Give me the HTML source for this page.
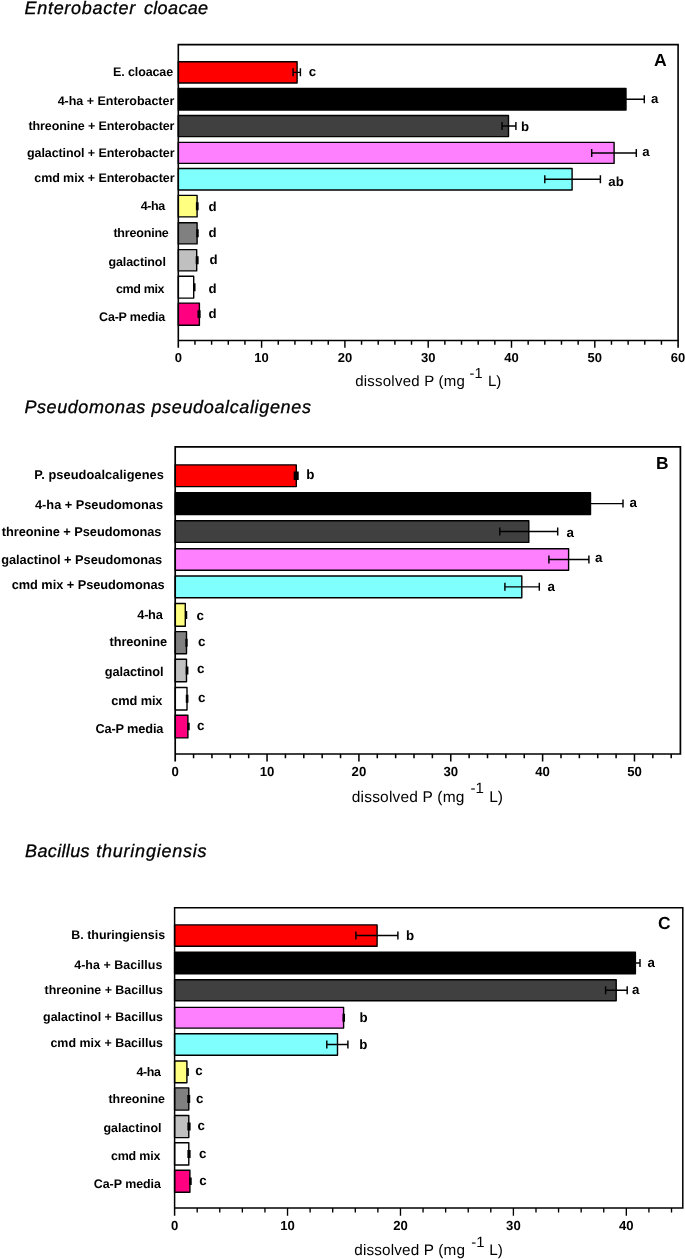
<!DOCTYPE html>
<html lang="en"><head><meta charset="utf-8"><title>Dissolved P charts</title>
<style>html,body{margin:0;padding:0;background:#fff}body{width:685px;height:1259px;overflow:hidden}svg{display:block}</style>
</head><body>
<svg width="685" height="1259" viewBox="0 0 685 1259" font-family='"Liberation Sans", sans-serif' fill="#000" text-rendering="geometricPrecision">
<rect width="685" height="1259" fill="#fff"/>
<text y="14.1" font-size="18" font-style="italic" stroke="#000" stroke-width="0.3"><tspan x="24.60" textLength="110.59" lengthAdjust="spacing">Enterobacter</tspan> <tspan x="143.90" textLength="64.23" lengthAdjust="spacing">cloacae</tspan></text>
<text y="413.1" font-size="18" font-style="italic" stroke="#000" stroke-width="0.3"><tspan x="24.40" textLength="120.87" lengthAdjust="spacing">Pseudomonas</tspan> <tspan x="151.45" textLength="159.44" lengthAdjust="spacing">pseudoalcaligenes</tspan></text>
<text y="856.5" font-size="18" font-style="italic" stroke="#000" stroke-width="0.3"><tspan x="25.10" textLength="64.42" lengthAdjust="spacing">Bacillus</tspan> <tspan x="96.20" textLength="110.39" lengthAdjust="spacing">thuringiensis</tspan></text>
<g stroke="#000" stroke-width="1.4" stroke-linejoin="round">
<rect x="178.30" y="61.70" width="118.80" height="21.30" fill="#ff0000"/>
<rect x="178.30" y="88.50" width="447.70" height="21.50" fill="#000000"/>
<rect x="178.30" y="115.50" width="330.20" height="21.10" fill="#404040"/>
<rect x="178.30" y="142.40" width="435.80" height="21.00" fill="#ff80ff"/>
<rect x="178.30" y="168.50" width="393.80" height="21.50" fill="#80ffff"/>
<rect x="178.30" y="195.40" width="18.80" height="21.50" fill="#ffff80"/>
<rect x="178.30" y="222.70" width="18.80" height="21.20" fill="#808080"/>
<rect x="178.30" y="249.60" width="18.40" height="21.30" fill="#c0c0c0"/>
<rect x="178.30" y="276.30" width="15.40" height="21.80" fill="#ffffff"/>
<rect x="178.30" y="303.10" width="21.10" height="22.10" fill="#ff0080"/>
</g>
<path d="M293.10 72.35H300.40M293.10 68.35v8.00M300.40 68.35v8.00M620.00 99.25H644.30M620.00 95.25v8.00M644.30 95.25v8.00M502.00 126.05H515.90M502.00 122.05v8.00M515.90 122.05v8.00M591.70 152.90H636.30M591.70 148.90v8.00M636.30 148.90v8.00M544.80 179.25H600.40M544.80 175.25v8.00M600.40 175.25v8.00" stroke="#000" stroke-width="1.45" fill="none"/>
<path d="M195.88 202.15H198.62v8.00H195.88zM196.28 229.30H198.72v8.00H196.28zM195.68 256.25H198.62v8.00H195.68zM193.28 283.20H195.53v8.00H193.28zM197.47 310.35H200.62v7.60H197.47z" fill="#000"/>
<path d="M178.30 347.70V44.60H678.10V347.70M177.50 340.50H678.90" stroke="#000" stroke-width="1.6" fill="none" stroke-linejoin="miter"/>
<path d="M194.96 340.50v4.30M211.62 340.50v4.30M228.28 340.50v4.30M244.94 340.50v4.30M261.60 340.50v7.20M278.26 340.50v4.30M294.92 340.50v4.30M311.58 340.50v4.30M328.24 340.50v4.30M344.90 340.50v7.20M361.56 340.50v4.30M378.22 340.50v4.30M394.88 340.50v4.30M411.54 340.50v4.30M428.20 340.50v7.20M444.86 340.50v4.30M461.52 340.50v4.30M478.18 340.50v4.30M494.84 340.50v4.30M511.50 340.50v7.20M528.16 340.50v4.30M544.82 340.50v4.30M561.48 340.50v4.30M578.14 340.50v4.30M594.80 340.50v7.20M611.46 340.50v4.30M628.12 340.50v4.30M644.78 340.50v4.30M661.44 340.50v4.30" stroke="#000" stroke-width="1.44" fill="none"/>
<g font-weight="bold" font-size="13" text-anchor="middle">
<text x="178.30" y="361.60">0</text>
<text x="261.60" y="361.60">10</text>
<text x="344.90" y="361.60">20</text>
<text x="428.20" y="361.60">30</text>
<text x="511.50" y="361.60">40</text>
<text x="594.80" y="361.60">50</text>
<text x="678.10" y="361.60">60</text>
</g>
<g font-weight="bold" font-size="12.5">
<text x="113.00" y="75.80" textLength="60.13" lengthAdjust="spacing">E. cloacae</text>
<text x="57.70" y="104.70" textLength="116.59" lengthAdjust="spacing">4-ha + Enterobacter</text>
<text x="28.50" y="130.30" textLength="145.99" lengthAdjust="spacing">threonine + Enterobacter</text>
<text x="27.00" y="157.00" textLength="147.51" lengthAdjust="spacing">galactinol + Enterobacter</text>
<text x="34.30" y="182.40" textLength="140.20" lengthAdjust="spacing">cmd mix + Enterobacter</text>
<text x="140.80" y="209.70" textLength="24.29" lengthAdjust="spacing">4-ha</text>
<text x="113.40" y="236.80" textLength="55.41" lengthAdjust="spacing">threonine</text>
<text x="108.50" y="265.60" textLength="57.37" lengthAdjust="spacing">galactinol</text>
<text x="116.00" y="292.90" textLength="48.53" lengthAdjust="spacing">cmd mix</text>
<text x="99.10" y="320.50" textLength="66.02" lengthAdjust="spacing">Ca-P media</text>
</g>
<g font-weight="bold" font-size="13.2">
<text x="308.80" y="76.20">c</text>
<text x="651.00" y="102.80">a</text>
<text x="521.10" y="131.30">b</text>
<text x="642.30" y="156.40">a</text>
<text x="608.30" y="185.50">ab</text>
<text x="208.40" y="210.80">d</text>
<text x="208.40" y="236.90">d</text>
<text x="209.40" y="263.90">d</text>
<text x="208.40" y="293.00">d</text>
<text x="208.40" y="318.40">d</text>
</g>
<text x="653.90" y="66.00" font-size="17.6" font-weight="bold">A</text>
<text x="355.20" y="386.30" font-size="15" textLength="109.6" lengthAdjust="spacing">dissolved P (mg</text>
<text x="469.60" y="377.60" font-size="14.55">-1</text>
<text x="488.00" y="386.30" font-size="15">L)</text>
<g stroke="#000" stroke-width="1.4" stroke-linejoin="round">
<rect x="175.20" y="464.90" width="121.10" height="21.70" fill="#ff0000"/>
<rect x="175.20" y="492.60" width="415.30" height="22.00" fill="#000000"/>
<rect x="175.20" y="520.70" width="353.60" height="21.70" fill="#404040"/>
<rect x="175.20" y="548.70" width="393.40" height="21.50" fill="#ff80ff"/>
<rect x="175.20" y="576.00" width="346.60" height="21.70" fill="#80ffff"/>
<rect x="175.20" y="603.50" width="10.10" height="22.80" fill="#ffff80"/>
<rect x="175.20" y="631.60" width="11.30" height="22.20" fill="#808080"/>
<rect x="175.20" y="659.20" width="11.30" height="22.50" fill="#c0c0c0"/>
<rect x="175.20" y="687.50" width="11.80" height="22.50" fill="#ffffff"/>
<rect x="175.20" y="715.20" width="12.70" height="22.70" fill="#ff0080"/>
</g>
<path d="M585.00 503.60H623.00M585.00 499.60v8.00M623.00 499.60v8.00M499.80 531.55H557.70M499.80 527.55v8.00M557.70 527.55v8.00M548.90 559.45H588.90M548.90 555.45v8.00M588.90 555.45v8.00M504.90 586.85H539.30M504.90 582.85v8.00M539.30 582.85v8.00" stroke="#000" stroke-width="1.45" fill="none"/>
<path d="M293.67 471.60H298.73v8.30H293.67zM185.28 610.90H187.22v8.00H185.28zM185.38 638.70H187.62v8.00H185.38zM185.68 666.45H188.42v8.00H185.68zM185.78 694.75H188.42v8.00H185.78zM187.38 722.85H189.72v7.40H187.38z" fill="#000"/>
<path d="M175.20 761.60V446.90H680.40V754.00M174.35 754.00H681.25" stroke="#000" stroke-width="1.7" fill="none" stroke-linejoin="miter"/>
<path d="M193.57 754.00v4.30M211.94 754.00v4.30M230.31 754.00v4.30M248.68 754.00v4.30M267.05 754.00v7.60M285.43 754.00v4.30M303.80 754.00v4.30M322.17 754.00v4.30M340.54 754.00v4.30M358.91 754.00v7.60M377.28 754.00v4.30M395.65 754.00v4.30M414.02 754.00v4.30M432.39 754.00v4.30M450.76 754.00v7.60M469.13 754.00v4.30M487.51 754.00v4.30M505.88 754.00v4.30M524.25 754.00v4.30M542.62 754.00v7.60M560.99 754.00v4.30M579.36 754.00v4.30M597.73 754.00v4.30M616.10 754.00v4.30M634.47 754.00v7.60M652.84 754.00v4.30M671.21 754.00v4.30" stroke="#000" stroke-width="1.53" fill="none"/>
<g font-weight="bold" font-size="13.2" text-anchor="middle">
<text x="175.20" y="775.90">0</text>
<text x="267.05" y="775.90">10</text>
<text x="358.91" y="775.90">20</text>
<text x="450.76" y="775.90">30</text>
<text x="542.62" y="775.90">40</text>
<text x="634.47" y="775.90">50</text>
</g>
<g font-weight="bold" font-size="12.8">
<text x="34.30" y="479.30" textLength="129.62" lengthAdjust="spacing">P. pseudoalcaligenes</text>
<text x="35.00" y="509.40" textLength="128.01" lengthAdjust="spacing">4-ha + Pseudomonas</text>
<text x="1.75" y="535.60" textLength="159.66" lengthAdjust="spacing">threonine + Pseudomonas</text>
<text x="1.20" y="563.50" textLength="161.03" lengthAdjust="spacing">galactinol + Pseudomonas</text>
<text x="11.70" y="589.40" textLength="152.92" lengthAdjust="spacing">cmd mix + Pseudomonas</text>
<text x="137.30" y="618.70" textLength="25.49" lengthAdjust="spacing">4-ha</text>
<text x="109.50" y="646.40" textLength="57.71" lengthAdjust="spacing">threonine</text>
<text x="104.70" y="675.90" textLength="58.87" lengthAdjust="spacing">galactinol</text>
<text x="111.30" y="704.60" textLength="51.13" lengthAdjust="spacing">cmd mix</text>
<text x="95.50" y="733.30" textLength="67.91" lengthAdjust="spacing">Ca-P media</text>
</g>
<g font-weight="bold" font-size="13.4">
<text x="306.20" y="479.20">b</text>
<text x="629.40" y="507.00">a</text>
<text x="566.40" y="536.60">a</text>
<text x="595.00" y="562.10">a</text>
<text x="547.50" y="591.30">a</text>
<text x="196.40" y="620.00">c</text>
<text x="197.90" y="645.50">c</text>
<text x="197.00" y="672.70">c</text>
<text x="197.90" y="702.30">c</text>
<text x="197.00" y="730.00">c</text>
</g>
<text x="656.00" y="468.90" font-size="17.4" font-weight="bold">B</text>
<text x="351.80" y="801.60" font-size="15.5" textLength="112.6" lengthAdjust="spacing">dissolved P (mg</text>
<text x="470.40" y="793.20" font-size="15.04">-1</text>
<text x="489.20" y="801.60" font-size="15.5">L)</text>
<g stroke="#000" stroke-width="1.4" stroke-linejoin="round">
<rect x="174.60" y="924.90" width="202.50" height="21.30" fill="#ff0000"/>
<rect x="174.60" y="952.20" width="460.80" height="21.50" fill="#000000"/>
<rect x="174.60" y="979.70" width="441.60" height="21.00" fill="#404040"/>
<rect x="174.60" y="1007.40" width="169.00" height="20.70" fill="#ff80ff"/>
<rect x="174.60" y="1033.80" width="162.90" height="21.50" fill="#80ffff"/>
<rect x="174.60" y="1061.00" width="12.30" height="21.80" fill="#ffff80"/>
<rect x="174.60" y="1087.90" width="14.20" height="22.20" fill="#808080"/>
<rect x="174.60" y="1115.50" width="14.20" height="22.10" fill="#c0c0c0"/>
<rect x="174.60" y="1142.80" width="14.20" height="22.20" fill="#ffffff"/>
<rect x="174.60" y="1170.20" width="15.30" height="22.10" fill="#ff0080"/>
</g>
<path d="M355.90 935.55H397.90M355.90 931.55v8.00M397.90 931.55v8.00M630.00 962.95H640.00M630.00 958.95v8.00M640.00 958.95v8.00M605.60 990.20H627.20M605.60 986.20v8.00M627.20 986.20v8.00M326.80 1044.55H347.90M326.80 1040.55v8.00M347.90 1040.55v8.00" stroke="#000" stroke-width="1.45" fill="none"/>
<path d="M342.47 1013.75H345.03v8.00H342.47zM187.18 1067.90H188.82v8.00H187.18zM187.28 1095.00H190.22v8.00H187.28zM187.38 1122.55H190.62v8.00H187.38zM187.38 1149.90H190.62v8.00H187.38zM189.08 1177.45H191.72v7.60H189.08z" fill="#000"/>
<path d="M174.60 1215.80V907.80H682.80V1207.90M173.85 1207.90H683.55" stroke="#000" stroke-width="1.5" fill="none" stroke-linejoin="miter"/>
<path d="M197.19 1207.90v4.50M219.77 1207.90v4.50M242.36 1207.90v4.50M264.95 1207.90v4.50M287.53 1207.90v7.90M310.12 1207.90v4.50M332.71 1207.90v4.50M355.29 1207.90v4.50M377.88 1207.90v4.50M400.47 1207.90v7.90M423.05 1207.90v4.50M445.64 1207.90v4.50M468.23 1207.90v4.50M490.81 1207.90v4.50M513.40 1207.90v7.90M535.99 1207.90v4.50M558.57 1207.90v4.50M581.16 1207.90v4.50M603.75 1207.90v4.50M626.33 1207.90v7.90M648.92 1207.90v4.50M671.51 1207.90v4.50" stroke="#000" stroke-width="1.35" fill="none"/>
<g font-weight="bold" font-size="13.1" text-anchor="middle">
<text x="174.60" y="1229.80">0</text>
<text x="287.53" y="1229.80">10</text>
<text x="400.47" y="1229.80">20</text>
<text x="513.40" y="1229.80">30</text>
<text x="626.33" y="1229.80">40</text>
</g>
<g font-weight="bold" font-size="12.45">
<text x="71.30" y="938.80" textLength="93.82" lengthAdjust="spacing">B. thuringiensis</text>
<text x="74.20" y="968.50" textLength="88.21" lengthAdjust="spacing">4-ha + Bacillus</text>
<text x="44.60" y="994.40" textLength="118.40" lengthAdjust="spacing">threonine + Bacillus</text>
<text x="43.10" y="1021.40" textLength="119.93" lengthAdjust="spacing">galactinol + Bacillus</text>
<text x="50.40" y="1047.20" textLength="112.62" lengthAdjust="spacing">cmd mix + Bacillus</text>
<text x="136.40" y="1075.60" textLength="24.59" lengthAdjust="spacing">4-ha</text>
<text x="108.40" y="1102.70" textLength="56.61" lengthAdjust="spacing">threonine</text>
<text x="103.50" y="1131.60" textLength="57.97" lengthAdjust="spacing">galactinol</text>
<text x="111.00" y="1160.00" textLength="49.33" lengthAdjust="spacing">cmd mix</text>
<text x="93.80" y="1187.60" textLength="67.12" lengthAdjust="spacing">Ca-P media</text>
</g>
<g font-weight="bold" font-size="13.3">
<text x="406.10" y="939.70">b</text>
<text x="647.60" y="966.70">a</text>
<text x="631.90" y="993.60">a</text>
<text x="359.60" y="1021.70">b</text>
<text x="359.20" y="1049.00">b</text>
<text x="195.20" y="1074.80">c</text>
<text x="196.00" y="1102.70">c</text>
<text x="197.60" y="1130.40">c</text>
<text x="199.10" y="1158.20">c</text>
<text x="199.30" y="1185.30">c</text>
</g>
<text x="658.10" y="929.30" font-size="17.4" font-weight="bold">C</text>
<text x="354.30" y="1255.30" font-size="15.3" textLength="110.6" lengthAdjust="spacing">dissolved P (mg</text>
<text x="471.20" y="1246.70" font-size="14.84">-1</text>
<text x="489.20" y="1255.30" font-size="15.3">L)</text>
</svg>
</body></html>
